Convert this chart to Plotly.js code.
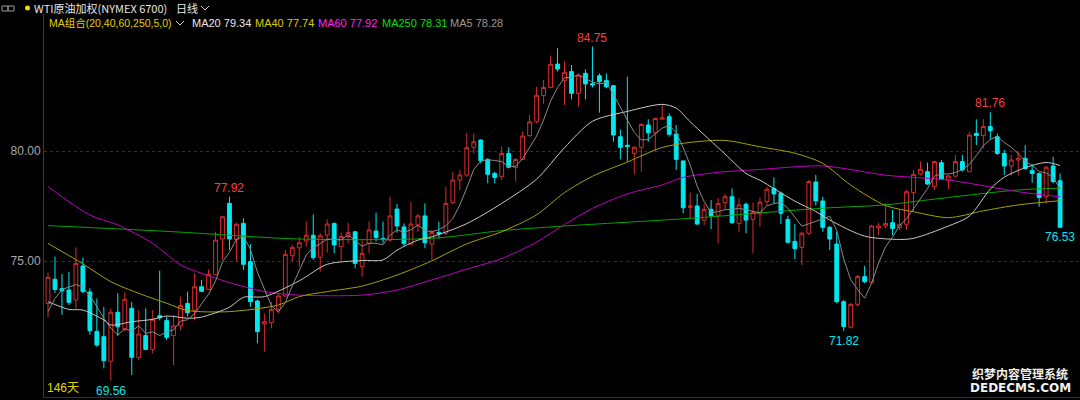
<!DOCTYPE html>
<html><head><meta charset="utf-8">
<script src="https://cdn.plot.ly/plotly-3.0.1.min.js"></script>
<style>html,body{margin:0;padding:0;background:#000;}#chart{width:1080px;height:400px;}</style>
</head><body><div id="chart"></div>
<script>
// ---- Data ----
const open = [
73.07,74.17,73.74,73.68,73.23,74.77,73.59,71.80,71.56,70.45,
72.67,71.91,72.85,70.62,71.61,70.98,72.51,72.29,71.61,72.05,
73.07,72.76,73.83,73.71,74.39,76.00,77.62,75.98,76.71,74.97,
73.18,72.14,72.20,72.80,73.41,75.24,75.60,75.91,76.17,75.17,
76.18,76.71,75.65,76.11,76.33,74.74,75.80,76.36,76.02,75.95,
77.36,76.55,75.77,76.64,77.05,75.77,76.30,76.26,77.65,78.68,
78.91,80.17,80.50,79.62,78.98,78.83,79.89,79.26,79.62,80.70,
81.33,82.52,82.89,83.95,83.20,83.61,82.62,83.53,83.06,83.42,
83.20,82.97,80.65,80.26,79.89,80.17,81.18,80.83,81.45,81.56,
80.77,79.55,77.44,77.50,76.86,77.35,77.05,77.65,77.92,76.71,
77.58,76.89,77.14,77.70,78.29,78.08,76.89,75.89,75.62,76.26,
78.59,77.73,76.53,75.77,73.15,71.99,73.03,74.29,74.03,76.50,
76.59,76.74,76.52,76.67,78.11,78.95,79.06,78.38,79.47,78.68,
78.86,79.52,79.06,80.80,80.70,81.11,80.65,79.89,79.32,79.59,
79.67,79.11,78.98,77.92,79.32,78.65];
const high = [
74.48,75.20,74.41,74.51,75.62,75.15,73.76,73.30,72.92,72.85,
73.53,73.58,73.15,72.77,72.85,72.77,74.56,72.47,72.55,73.38,
73.61,74.44,74.14,74.62,76.33,77.05,77.92,76.74,76.94,75.77,
73.25,72.62,73.15,73.50,75.50,75.73,76.10,76.79,77.12,76.26,
76.89,76.74,76.29,76.74,76.35,75.95,76.79,77.20,76.79,77.92,
77.59,76.71,77.70,77.14,77.62,76.41,76.79,78.38,79.06,79.14,
80.83,80.80,80.52,79.67,79.06,80.20,80.17,79.67,80.88,81.64,
82.92,83.23,84.32,84.67,84.06,83.91,83.53,83.71,84.75,83.53,
83.53,83.00,80.98,83.38,80.20,81.26,81.44,81.48,82.09,81.71,
81.18,79.56,78.11,78.05,77.59,77.77,77.85,78.05,78.30,77.85,
77.65,77.65,77.89,78.38,78.80,78.15,77.05,76.68,76.33,78.68,
78.91,77.92,76.59,76.33,73.23,73.08,74.36,74.77,76.64,76.74,
77.62,77.32,77.35,78.23,79.14,79.52,79.47,79.56,79.59,78.91,
79.82,79.82,80.88,81.44,81.44,81.76,80.80,80.05,79.82,79.97,
80.27,79.41,79.02,79.32,79.74,78.98];
const low = [
72.44,73.55,72.55,73.00,72.85,73.53,71.64,71.10,70.12,69.56,
71.59,71.79,69.82,70.50,70.95,70.80,72.30,71.41,70.27,71.86,
72.47,72.30,73.59,73.68,74.36,75.05,75.50,74.97,74.59,72.92,
71.26,70.88,71.94,72.62,73.38,74.97,74.74,75.65,75.05,74.52,
75.38,75.35,75.02,75.80,74.67,74.29,75.35,75.88,75.80,75.88,
76.29,75.65,75.73,76.33,75.58,75.05,76.03,76.18,77.59,78.23,
78.83,79.89,79.44,78.53,78.53,78.68,79.21,78.61,79.59,80.65,
81.26,82.14,82.85,83.61,82.09,82.35,82.02,82.35,82.89,81.74,
82.85,80.42,79.62,79.52,78.94,79.06,80.42,79.97,81.44,80.65,
79.14,77.17,76.89,76.64,76.64,76.44,75.80,77.32,76.70,76.33,
76.26,75.35,76.56,77.55,77.62,76.67,75.80,75.09,74.82,76.18,
77.52,76.33,75.50,73.08,71.82,71.94,72.92,73.99,74.02,76.18,
76.48,76.18,76.41,76.41,77.24,78.91,78.46,78.23,78.68,78.26,
78.80,79.06,79.04,80.27,80.12,80.50,79.82,78.91,78.88,78.88,
79.14,78.56,77.47,77.62,78.53,76.53];
const close = [
74.26,73.71,73.65,73.12,74.89,73.61,71.83,71.18,70.47,72.67,
72.01,73.26,70.62,71.68,70.98,72.35,72.42,71.53,72.05,72.98,
72.65,73.83,73.62,74.39,75.95,77.01,76.00,76.67,74.85,73.15,
71.79,72.24,72.80,73.41,75.30,75.62,75.83,76.17,75.15,76.15,
76.68,75.73,76.11,76.29,74.89,75.35,76.41,76.06,75.99,77.05,
76.59,75.79,76.68,77.05,75.83,76.29,76.23,77.62,78.68,78.91,
80.15,80.42,79.56,78.94,78.80,79.89,79.26,79.62,80.68,81.32,
82.53,82.89,83.94,83.73,83.58,82.62,83.45,83.05,83.00,83.15,
82.92,80.73,80.17,80.20,80.17,81.21,80.83,81.48,81.50,80.76,
79.62,77.42,77.50,76.68,77.35,77.06,77.62,77.92,76.74,77.55,
76.86,77.20,77.67,78.26,78.05,77.17,75.85,75.56,76.26,78.61,
77.73,76.53,76.00,73.15,72.02,73.03,74.29,74.06,76.59,76.59,
76.71,76.48,76.67,78.15,78.94,79.17,78.50,79.52,78.71,78.86,
79.52,79.14,80.73,80.70,81.11,80.92,79.89,79.32,79.59,79.67,
79.20,78.98,77.89,79.26,78.61,76.53];

// moving-average lines
const ma5 = [
72.7,73.3,73.7,73.8,73.93,73.80,73.42,72.93,72.40,71.95,
71.63,71.92,71.81,72.05,71.71,71.78,71.61,71.79,71.87,72.27,
72.33,72.61,73.03,73.49,74.09,74.96,75.39,76.00,76.10,75.54,
74.49,73.74,72.97,72.68,73.11,73.87,74.59,75.27,75.61,75.78,
76.00,75.98,75.96,76.19,75.94,75.67,75.81,75.80,75.74,76.17,
76.42,76.30,76.42,76.63,76.39,76.33,76.42,76.60,76.93,77.55,
78.32,79.16,79.54,79.60,79.57,79.52,79.29,79.30,79.65,80.15,
80.68,81.41,82.27,82.88,83.33,83.35,83.46,83.29,83.14,83.05,
83.11,82.57,81.99,81.43,80.84,80.50,80.52,80.78,81.04,81.16,
80.84,80.16,79.36,78.40,77.71,77.20,77.24,77.33,77.34,77.38,
77.34,77.25,77.20,77.51,77.61,77.67,77.40,76.98,76.58,76.69,
76.80,76.94,77.03,76.40,75.09,74.15,73.70,73.31,74.00,74.91,
75.65,76.09,76.61,76.92,77.39,77.88,78.29,78.86,78.97,78.95,
79.02,79.15,79.39,79.79,80.24,80.52,80.67,80.39,80.17,79.88,
79.53,79.35,79.07,79.00,78.79,78.28];
const ma20Idx = [0,3,5,8,9,12,15,17,20,22,26,28,31,36,40,45,48,50,53,55,60,65,70,74,78,83,88,90,92,97,100,102,107,110,112,117,122,124,129,132,135,137,140,143,145];
const ma20Val = [73.15,72.80,72.77,72.32,72.09,72.24,72.35,72.50,72.40,72.45,72.90,73.35,73.38,74.10,74.85,75.02,75.05,75.49,75.95,76.10,76.70,77.62,78.72,80.15,81.35,81.80,82.12,81.95,81.33,79.86,78.98,78.67,77.72,77.25,76.86,76.13,75.98,76.03,76.59,77.04,78.27,78.81,79.24,79.48,79.34];
const ma40Idx = [0,5,9,13,17,20,26,33,36,40,45,50,55,60,65,70,74,78,83,88,92,97,102,107,111,115,120,124,129,134,139,145];
const ma40Val = [75.80,74.87,74.06,73.53,73.08,72.75,72.70,73.00,73.38,73.61,73.86,74.36,75.01,75.78,76.33,77.10,78.11,78.85,79.50,80.16,80.39,80.48,80.19,79.90,79.44,78.45,77.52,77.24,76.97,77.28,77.55,77.74];
const ma60Idx = [0,6,10,15,19,22,26,31,36,45,50,55,60,65,70,74,78,83,88,91,96,102,111,120,124,129,139,145];
const ma60Val = [78.38,77.09,76.64,75.80,74.82,74.44,74.02,73.61,73.45,73.45,73.68,74.14,74.63,75.11,75.86,76.66,77.39,78.05,78.46,78.80,79.03,79.16,79.32,78.90,78.80,78.68,78.15,77.92];
const ma250Idx = [0,18,36,55,65,74,92,111,120,124,139,145];
const ma250Val = [76.61,76.33,76.00,76.03,76.38,76.59,76.94,77.40,77.55,77.70,78.23,78.31];

const tickVals = [75, 80];
const titleText = 'WTI原油加权(NYMEX 6700)';
const periodText = '日线';
const maGroupText = 'MA组合(20,40,60,250,5,0)';

// ---- geometry helpers (pixel -> paper) ----
const W = 1080, H = 400, ML = 44, MR = 0, MT = 14, MB = 3;
const PW = W - ML - MR, PH = H - MT - MB;
const px = x => (x - ML) / PW;
const py = y => (H - MB - y) / PH;
const step = 6.98, x0px = 48;
const xr = [-(x0px - ML) / step, -(x0px - ML) / step + PW / step];
const yr = [80 - (H - MB - 151) / 22, 80 + (151 - MT) / 22];

const idx = close.map((_, i) => i);
const last = a => a[a.length - 1];

const RED = '#d82c2c', CYAN = '#00e8f0';

const traces = [
  {type:'scatter', mode:'lines', x:ma250Idx, y:ma250Val, line:{color:'#00a800', width:1, shape:'spline', smoothing:0.8}, hoverinfo:'skip'},
  {type:'scatter', mode:'lines', x:ma60Idx, y:ma60Val, line:{color:'#c000c0', width:1, shape:'spline', smoothing:0.8}, hoverinfo:'skip'},
  {type:'scatter', mode:'lines', x:ma40Idx, y:ma40Val, line:{color:'#a8a000', width:1, shape:'spline', smoothing:0.8}, hoverinfo:'skip'},
  {type:'scatter', mode:'lines', x:ma20Idx, y:ma20Val, line:{color:'#c8c8c8', width:1, shape:'spline', smoothing:0.8}, hoverinfo:'skip'},
  {type:'scatter', mode:'lines', x:idx, y:ma5, line:{color:'#8a8a8a', width:1}, hoverinfo:'skip'},
  {type:'candlestick', x:idx, open:open, high:high, low:low, close:close,
   increasing:{line:{color:RED, width:1}, fillcolor:'#000000'},
   decreasing:{line:{color:CYAN, width:1}, fillcolor:CYAN},
   whiskerwidth:0, hoverinfo:'skip'}
];

const hiIdx = [26, 78, 135];
const loIdx = [114, 145];
const minIdx = 9;

const ann = [];
hiIdx.forEach(i => ann.push({x:i, y:high[i], xref:'x', yref:'y', text:high[i].toFixed(2), showarrow:false,
  yanchor:'bottom', yshift:0, font:{color:'#ff3c3c', size:12, family:'Liberation Sans, Arial'}}));
loIdx.forEach(i => ann.push({x:i, y:low[i], xref:'x', yref:'y', text:low[i].toFixed(2), showarrow:false,
  yanchor:'top', yshift:-1, font:{color:CYAN, size:12, family:'Liberation Sans, Arial'}}));
ann.push({x:minIdx, y:low[minIdx], xref:'x', yref:'y', text:low[minIdx].toFixed(2), showarrow:false,
  yanchor:'top', yshift:-1, font:{color:CYAN, size:12, family:'Liberation Sans, Arial'}});
ann.push({x:px(45), y:py(388), xref:'paper', yref:'paper', text:close.length + '天', showarrow:false,
  xanchor:'left', yanchor:'middle', font:{color:'#e0d800', size:12, family:'Liberation Sans, Noto Sans CJK SC'}});

// header row 1
ann.push({x:px(32), y:py(8), xref:'paper', yref:'paper', text:titleText, showarrow:false, xanchor:'left', yanchor:'middle',
  font:{color:'#e6e6e6', size:11, family:'Noto Sans CJK SC'}});
ann.push({x:px(174), y:py(8), xref:'paper', yref:'paper', text:periodText, showarrow:false, xanchor:'left', yanchor:'middle',
  font:{color:'#e6e6e6', size:11, family:'Noto Sans CJK SC'}});
// header row 2 (legend)
const legendItems = [
  {x:47, text:maGroupText, color:'#e0d000', size:10.5},
  {x:190, text:'MA20 ' + last(ma20Val).toFixed(2), color:'#e8e8e8'},
  {x:253, text:'MA40 ' + last(ma40Val).toFixed(2), color:'#dccc00'},
  {x:316, text:'MA60 ' + last(ma60Val).toFixed(2), color:'#ff20ff'},
  {x:380, text:'MA250 ' + last(ma250Val).toFixed(2), color:'#00e000'},
  {x:448, text:'MA5 ' + last(ma5).toFixed(2), color:'#9a9a9a'}
];
legendItems.forEach(it => ann.push({x:px(it.x), y:py(23), xref:'paper', yref:'paper', text:it.text, showarrow:false,
  xanchor:'left', yanchor:'middle', font:{color:it.color, size:it.size || 11, family:'Liberation Sans, Noto Sans CJK SC'}}));
// watermark
ann.push({x:px(1020), y:py(373), xref:'paper', yref:'paper', text:'<b>织梦内容管理系统</b>', showarrow:false,
  xanchor:'center', yanchor:'middle', font:{color:'#f0f0f0', size:12, family:'Noto Sans CJK SC'}});
ann.push({x:px(1020), y:py(388), xref:'paper', yref:'paper', text:'<b>DEDECMS.COM</b>', showarrow:false,
  xanchor:'center', yanchor:'middle', font:{color:'#f0f0f0', size:12, family:'DejaVu Sans, Liberation Sans'}});

const chev = (cx, cy, c) => ({type:'path', xref:'paper', yref:'paper',
  path:`M${px(cx-4)},${py(cy-2)} L${px(cx)},${py(cy+2)} L${px(cx+4)},${py(cy-2)}`, line:{color:c, width:1}});

const shapes = [
  {type:'rect', xref:'paper', yref:'paper', x0:px(2), x1:px(8), y0:py(11), y1:py(6), line:{color:'#9a9a9a', width:1}},
  {type:'rect', xref:'paper', yref:'paper', x0:px(8), x1:px(14), y0:py(11), y1:py(6), line:{color:'#9a9a9a', width:1}},
  {type:'circle', xref:'paper', yref:'paper', x0:px(25), x1:px(30), y0:py(10.5), y1:py(5.5), fillcolor:'#f0d800', line:{width:0}},
  chev(205, 8, '#d0d0d0'),
  chev(180, 23, '#d0d0d0')
];

const layout = {
  width:W, height:H, margin:{l:ML, r:MR, t:MT, b:MB, pad:0},
  paper_bgcolor:'#000', plot_bgcolor:'#000', showlegend:false,
  boxgap:0.22,
  xaxis:{range:xr, showgrid:false, zeroline:false, showticklabels:false, ticks:'',
    showline:true, linecolor:'#7a1414', linewidth:1, rangeslider:{visible:false}, fixedrange:true},
  yaxis:{range:yr, tickvals:tickVals, ticktext:tickVals.map(v => v.toFixed(2)),
    tickfont:{color:'#a8a8a8', size:12, family:'Liberation Sans, Arial'}, ticks:'',
    showgrid:true, gridcolor:'#7a1212', griddash:'dot', gridwidth:1, zeroline:false,
    showline:true, linecolor:'#8a1818', linewidth:1, fixedrange:true},
  annotations:ann, shapes:shapes
};
Plotly.newPlot('chart', traces, layout, {displayModeBar:false, staticPlot:true});
</script></body></html>
